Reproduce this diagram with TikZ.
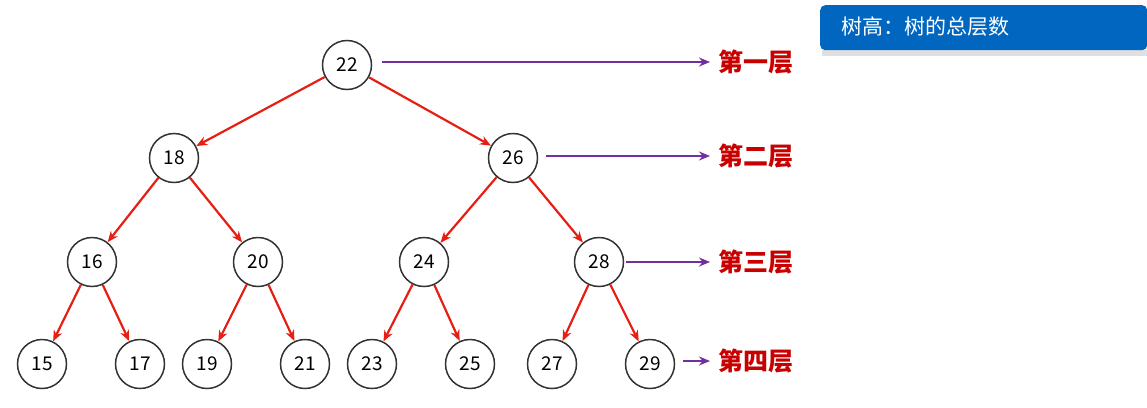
\documentclass[tikz,border=0pt]{standalone}
\usepackage{fontspec}
\setmainfont{Noto Sans CJK SC}
\usetikzlibrary{arrows.meta}
\definecolor{tred}{RGB}{230,30,20}
\definecolor{tpur}{RGB}{112,48,160}
\definecolor{tlab}{RGB}{200,0,0}
\definecolor{tblue}{RGB}{0,102,192}
\begin{document}
\begin{tikzpicture}[x=1pt,y=-1pt,
  tn/.style={circle,draw=black!80,line width=1.5pt,minimum size=49pt,inner sep=0pt,font=\fontsize{19}{19}\selectfont},
  ed/.style={tred,line width=2.2pt,-{Stealth[length=11pt,width=9pt]}},
  pa/.style={tpur,line width=2.2pt,-{Stealth[length=11pt,width=9pt]}},
  lb/.style={tlab,font=\fontsize{25}{25}\selectfont\bfseries,anchor=west,inner sep=0pt}]
\useasboundingbox (0,0) rectangle (1147,407);
\node[tn] (n22) at (347,65) {22};
\node[tn] (n18) at (174,158) {18};
\node[tn] (n26) at (513,158) {26};
\node[tn] (n16) at (92,262) {16};
\node[tn] (n20) at (258,262) {20};
\node[tn] (n24) at (424,262) {24};
\node[tn] (n28) at (599,262) {28};
\node[tn] (n15) at (42,364) {15};
\node[tn] (n17) at (140,364) {17};
\node[tn] (n19) at (207,364) {19};
\node[tn] (n21) at (305,364) {21};
\node[tn] (n23) at (372,364) {23};
\node[tn] (n25) at (470,364) {25};
\node[tn] (n27) at (552,364) {27};
\node[tn] (n29) at (650,364) {29};
\foreach \a/\b in {22/18,22/26,18/16,18/20,26/24,26/28,16/15,16/17,20/19,20/21,24/23,24/25,28/27,28/29}
  \draw[ed] (n\a) -- (n\b);
\node[lb] (l1) at (718,62) {第一层};
\node[lb] (l2) at (718,156) {第二层};
\node[lb] (l3) at (718,262) {第三层};
\node[lb] (l4) at (718,361) {第四层};
\draw[pa] (n22.east |- l1.west)++(10,0) -- ([xshift=-8pt]l1.west);
\draw[pa] (n26.east |- l2.west)++(8,0) -- ([xshift=-8pt]l2.west);
\draw[pa] (n28.east |- l3.west)++(2,0) -- ([xshift=-8pt]l3.west);
\draw[pa] (n29.east |- l4.west)++(8,0) -- ([xshift=-8pt]l4.west);
\fill[black!12] (822,50) rectangle (1147,56);
\node[fill=tblue,rounded corners=5pt,minimum width=327pt,minimum height=45pt,anchor=north west,inner sep=0pt] (box) at (820,5) {};
\node[white,anchor=west,font=\fontsize{21}{21}\selectfont] (bt) at (838,27) {树高：树的总层数};
\end{tikzpicture}
\end{document}
